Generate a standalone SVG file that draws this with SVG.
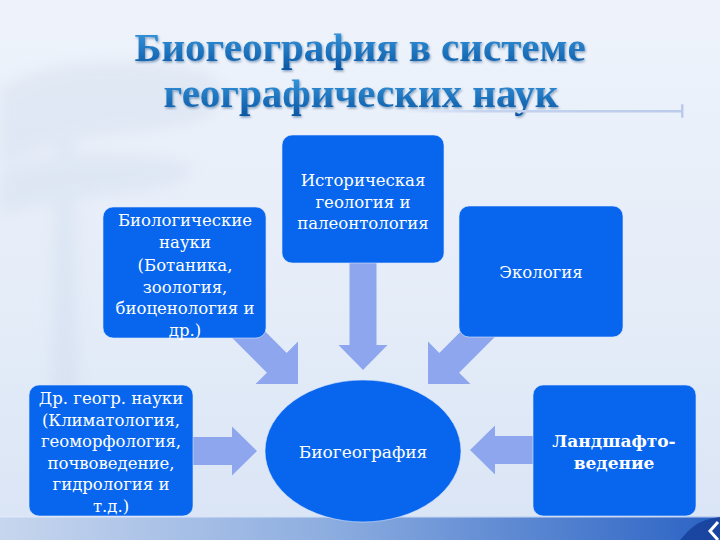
<svg xmlns="http://www.w3.org/2000/svg" width="720" height="540" viewBox="0 0 720 540">
  <defs>
    <linearGradient id="bg" x1="0" y1="0" x2="0" y2="1">
      <stop offset="0" stop-color="#eef3fb"/>
      <stop offset="0.6" stop-color="#e4ecf8"/>
      <stop offset="1" stop-color="#d9e4f5"/>
    </linearGradient>
    <linearGradient id="band" x1="0" y1="0" x2="1" y2="0">
      <stop offset="0" stop-color="#c7d6ee"/>
      <stop offset="0.45" stop-color="#8eaee0"/>
      <stop offset="1" stop-color="#2a62c4"/>
    </linearGradient>
    <linearGradient id="titleFill" x1="0" y1="0" x2="0" y2="1">
      <stop offset="0" stop-color="#3ea2e6"/>
      <stop offset="1" stop-color="#0a56a4"/>
    </linearGradient>
    <linearGradient id="rule" x1="0" y1="0" x2="1" y2="0">
      <stop offset="0" stop-color="#c4d3ef" stop-opacity="0"/>
      <stop offset="0.3" stop-color="#c4d3ef"/>
      <stop offset="1" stop-color="#bccbeb"/>
    </linearGradient>
    <filter id="shadow" x="-5%" y="-20%" width="110%" height="150%">
      <feDropShadow dx="1" dy="1.5" stdDeviation="1" flood-color="#0a3570" flood-opacity="0.45"/>
    </filter>
    <filter id="soft" x="-20%" y="-20%" width="140%" height="140%">
      <feGaussianBlur stdDeviation="7"/>
    </filter>
    <style>
      .box { fill: #0866ee; stroke: #dce6fb; stroke-opacity: 0.6; stroke-width: 1; }
      .arrow { fill: #8da6ee; }
      .lbl { font-family: "DejaVu Serif", "Liberation Serif", serif; font-size: 16.5px; fill: #ffffff; text-anchor: middle; }
      .bold { font-weight: bold; font-size: 17px; }
      .title { font-family: "Liberation Serif", "DejaVu Serif", serif; font-weight: bold; font-size: 41px; fill: url(#titleFill); text-anchor: middle; }
    </style>
  </defs>

  <!-- background -->
  <rect x="0" y="0" width="720" height="540" fill="url(#bg)"/>
  <g opacity="0.2" filter="url(#soft)" fill="#b7c7df">
    <path d="M0,90 C40,60 120,55 200,70 C230,80 230,110 200,120 C150,135 90,130 40,150 C20,160 0,165 0,165 Z"/>
    <path d="M0,170 C50,150 140,150 190,165 C200,180 160,190 110,195 C60,200 20,210 0,215 Z"/>
    <path d="M55,120 L75,120 L80,520 L50,520 Z"/>
  </g>

  <!-- bottom band -->
  <rect x="0" y="516" width="720" height="24" fill="url(#band)"/>
  <rect x="0" y="516" width="720" height="1.5" fill="#e6eefb" opacity="0.8"/>
  <path d="M680,540 C690,530 695,520 720,517 L720,540 Z" fill="#163f9a" opacity="0.85"/>
  <polyline points="718,522 710,531 718,540" fill="none" stroke="#ffffff" stroke-width="3"/>

  <!-- title -->
  <g id="title" filter="url(#shadow)">
    <text class="title" x="360" y="61">Биогеография в системе</text>
    <text class="title" x="361" y="107">географических наук</text>
  </g>
  <g id="title-rule">
    <rect x="400" y="110" width="283" height="2.5" fill="url(#rule)"/>
    <rect x="681" y="104" width="2.5" height="14" rx="1.2" fill="#bccbeb"/>
  </g>

  <!-- connectors -->
  <g id="connectors">
    <path class="arrow" transform="translate(257,451)" d="M-67,-14 L-25,-14 L-25,-24.5 L0,0 L-25,24.5 L-25,14 L-67,14 Z"/>
    <path class="arrow" transform="translate(470,450) rotate(180)" d="M-66,-14 L-25,-14 L-25,-24.5 L0,0 L-25,24.5 L-25,14 L-66,14 Z"/>
    <path class="arrow" transform="translate(363,370) rotate(90)" d="M-115,-13.5 L-25,-13.5 L-25,-24.5 L0,0 L-25,24.5 L-25,13.5 L-115,13.5 Z"/>
    <path class="arrow" transform="translate(298,384) rotate(45)" d="M-103,-14 L-30,-14 L-30,-30 L0,0 L-30,30 L-30,14 L-103,14 Z"/>
    <path class="arrow" transform="translate(428,384) rotate(135)" d="M-103,-14 L-30,-14 L-30,-30 L0,0 L-30,30 L-30,14 L-103,14 Z"/>
  </g>

  <!-- nodes -->
  <g id="node-biology">
    <rect class="box" x="103" y="207" width="163" height="131" rx="10"/>
    <text class="lbl" x="185" y="226">Биологические</text>
    <text class="lbl" x="185" y="248">науки</text>
    <text class="lbl" x="185" y="271">(Ботаника,</text>
    <text class="lbl" x="185" y="293">зоология,</text>
    <text class="lbl" x="185" y="314">биоценология и</text>
    <text class="lbl" x="185" y="336">др.)</text>
  </g>

  <g id="node-history">
    <rect class="box" x="282" y="135" width="162" height="128" rx="10"/>
    <text class="lbl" x="363" y="186">Историческая</text>
    <text class="lbl" x="363" y="208">геология и</text>
    <text class="lbl" x="363" y="229">палеонтология</text>
  </g>

  <g id="node-ecology">
    <rect class="box" x="459" y="206" width="164" height="131" rx="10"/>
    <text class="lbl" x="541" y="278">Экология</text>
  </g>

  <g id="node-geo">
    <rect class="box" x="29" y="385" width="164" height="131" rx="10"/>
    <text class="lbl" x="111" y="404">Др. геогр. науки</text>
    <text class="lbl" x="111" y="426">(Климатология,</text>
    <text class="lbl" x="111" y="447">геоморфология,</text>
    <text class="lbl" x="111" y="469">почвоведение,</text>
    <text class="lbl" x="111" y="490">гидрология и</text>
    <text class="lbl" x="111" y="512">т.д.)</text>
  </g>

  <g id="node-landscape">
    <rect class="box" x="533" y="385" width="163" height="131" rx="10"/>
    <text class="lbl bold" x="614" y="447">Ландшафто-</text>
    <text class="lbl bold" x="614" y="469">ведение</text>
  </g>

  <g id="node-biogeography">
    <ellipse class="box" cx="363" cy="451" rx="98" ry="71"/>
    <text class="lbl" x="363" y="458" style="font-size:17px">Биогеография</text>
  </g>
</svg>
